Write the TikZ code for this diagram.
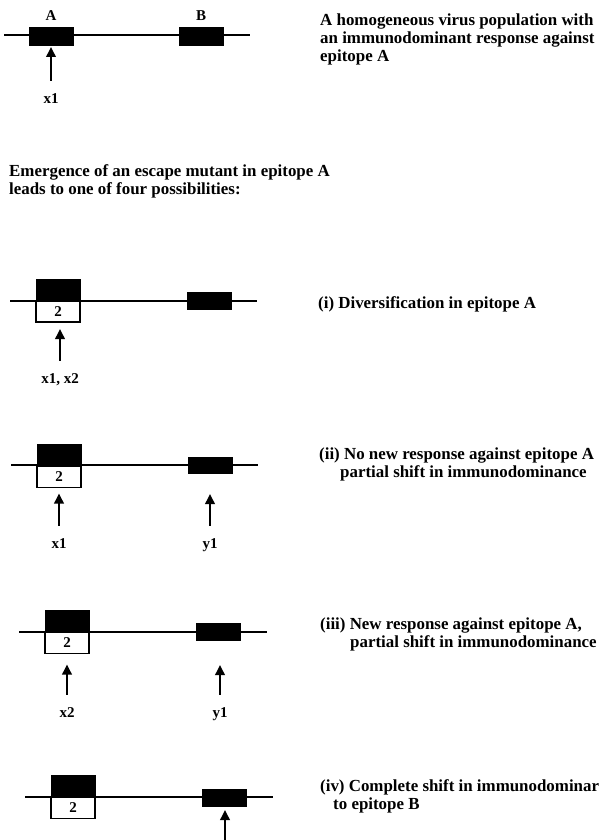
\documentclass[tikz,border=0pt]{standalone}
\usepackage{fontspec}
\setmainfont{Liberation Serif}
\usetikzlibrary{arrows.meta,calc}
\begin{document}
\begin{tikzpicture}[x=1pt,y=-1pt,
 genome/.style={line width=1.5pt},
 epi/.style={fill=black,draw=black,line width=0.8pt,inner sep=0,outer sep=0,minimum width=44pt},
 mutbox/.style={fill=white,draw=black,line width=1.2pt,inner sep=0,outer sep=0,minimum width=44pt,minimum height=21pt,font=\bfseries\fontsize{15}{15}\selectfont},
 arr/.style={line width=1.9pt,-{Triangle[length=10pt,width=9.5pt]},shorten <=12pt},
 lbl/.style={font=\bfseries\fontsize{15}{15}\selectfont,inner sep=0,anchor=base},
 txt/.style={font=\bfseries\fontsize{16.9}{18}\selectfont,anchor=base west,inner sep=0}]
\fill[white] (0,0) rectangle (601,840);
\useasboundingbox (0,0) rectangle (601,840);

% ---------- top panel ----------
\draw[genome] (4,35) -- (250,35);
\node[epi,minimum height=18pt] (A0) at (51,36) {};
\node[epi,minimum height=18pt] (B0) at (201.5,36) {};
\node[lbl] (lA) at (51,21) {A};
\node[lbl] (lB) at (201,21) {B};
\node[lbl] (x10) at (51,103) {x1};
\draw[arr,shorten >=2pt] (x10.north) -- (x10.north |- A0.south);
\node[txt] (t1) at (320,26) {A homogeneous virus population with};
\node[txt] (t2) at (320,44) {an immunodominant response against};
\node[txt] (t3) at (320,62) {epitope A};

\node[txt] (e1) at (9,176) {Emergence of an escape mutant in epitope A};
\node[txt] (e2) at (9,194) {leads to one of four possibilities:};

% ---------- (i) ----------
\draw[genome] (10,301) -- (257,301);
\node[epi,minimum height=22pt] (A1) at (58,290) {};
\node[mutbox] (M1) at (58,311.5) {2};
\node[epi,minimum height=17pt] (B1) at (209.5,300.5) {};
\node[lbl] (x11) at (60,383) {x1, x2};
\draw[arr,shorten >=7pt] (x11.north) -- (x11.north |- M1.south);
\node[txt] (i1) at (318,308) {(i) Diversification in epitope A};

% ---------- (ii) ----------
\draw[genome] (11,465) -- (258,465);
\node[epi,minimum height=22pt] (A2) at (59,455) {};
\node[mutbox] (M2) at (59,477) {2};
\node[epi,minimum height=16pt] (B2) at (210,465) {};
\node[lbl] (x12) at (59,548) {x1};
\node[lbl] (y12) at (210,548) {y1};
\draw[arr,shorten >=6pt] (x12.north) -- (x12.north |- M2.south);
\draw[arr,shorten >=21pt] (y12.north) -- (y12.north |- B2.south);
\node[txt] (ii1) at (319,459) {(ii) No new response against epitope A};
\node[txt] (ii2) at (340,477) {partial shift in immunodominance};

% ---------- (iii) ----------
\draw[genome] (19,632) -- (267,632);
\node[epi,minimum height=22pt] (A3) at (67,621) {};
\node[mutbox] (M3) at (67,643) {2};
\node[epi,minimum height=17pt] (B3) at (218.5,631.5) {};
\node[lbl] (x23) at (67,717) {x2};
\node[lbl] (y13) at (220,717) {y1};
\draw[arr,shorten >=11pt] (x23.north) -- (x23.north |- M3.south);
\draw[arr,shorten >=25pt] (y13.north) -- (y13.north |- B3.south);
\node[txt] (iii1) at (320,629) {(iii) New response against epitope A,};
\node[txt] (iii2) at (350,647) {partial shift in immunodominance};

% ---------- (iv) ----------
\draw[genome] (25,797) -- (273,797);
\node[epi,minimum height=22pt] (A4) at (73,786) {};
\node[mutbox] (M4) at (73,808) {2};
\node[epi,minimum height=17pt] (B4) at (224,797.5) {};
\coordinate (f4) at (225,852);
\draw[arr,shorten <=0pt,shorten >=4pt] (f4) -- (f4 |- B4.south);
\node[txt] (iv1) at (320,791) {(iv) Complete shift in immunodominar};
\node[txt] (iv2) at (333,809) {to epitope B};
\end{tikzpicture}
\end{document}
